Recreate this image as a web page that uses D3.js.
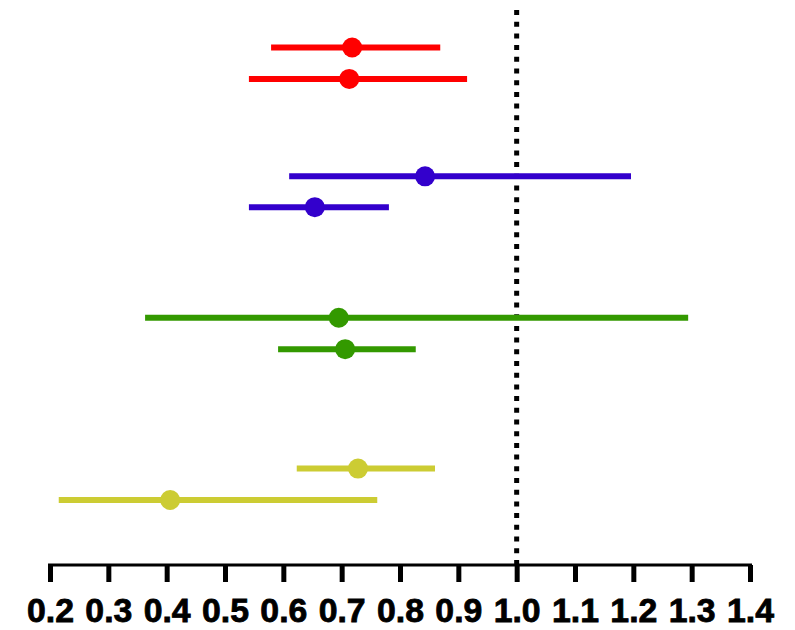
<!DOCTYPE html>
<html>
<head>
<meta charset="utf-8">
<script src="https://cdn.jsdelivr.net/npm/d3@7/dist/d3.min.js"></script>
<style>
  html, body { margin: 0; padding: 0; background: #fff; }
  svg { display: block; }
</style>
</head>
<body>
<svg id="chart" width="795" height="630"></svg>
<script>
// Odds ratios with 95% CI, two rows per group
const groups = ["A", "A", "B", "B", "C", "C", "D", "D"];
const rowSlot = [0, 1, 4.1, 5.08, 8.6, 9.6, 13.4, 14.4];
const estimate = [0.718, 0.713, 0.843, 0.654, 0.695, 0.706, 0.728, 0.406];
const lower    = [0.579, 0.541, 0.610, 0.541, 0.363, 0.591, 0.623, 0.215];
const upper    = [0.869, 0.915, 1.196, 0.781, 1.294, 0.827, 0.860, 0.761];
const groupColors = { A: "#ff0000", B: "#3300cc", C: "#339900", D: "#cccc33" };
const tickValues = [0.2, 0.3, 0.4, 0.5, 0.6, 0.7, 0.8, 0.9, 1.0, 1.1, 1.2, 1.3, 1.4];
const refValue = 1.0;

const rows = estimate.map((e, i) => ({
  group: groups[i], slot: rowSlot[i], est: e, lo: lower[i], hi: upper[i]
}));

const svg = d3.select("#chart");
const x = d3.scaleLinear().domain([0.2, 1.4]).range([50, 750]);
const y = d3.scaleLinear().domain([0, 14.4]).range([47.5, 500]);
const axisY = 565;

// reference line at OR = 1
svg.append("line")
  .attr("x1", x(refValue)).attr("x2", x(refValue))
  .attr("y1", 10).attr("y2", axisY)
  .attr("stroke", "#000").attr("stroke-width", 5)
  .attr("stroke-dasharray", "5,6.7");

// confidence interval bars
svg.selectAll("line.ci").data(rows).join("line")
  .attr("class", "ci")
  .attr("x1", d => x(d.lo)).attr("x2", d => x(d.hi))
  .attr("y1", d => y(d.slot)).attr("y2", d => y(d.slot))
  .attr("stroke", d => groupColors[d.group])
  .attr("stroke-width", 6);

// point estimates
svg.selectAll("circle.est").data(rows).join("circle")
  .attr("class", "est")
  .attr("cx", d => x(d.est)).attr("cy", d => y(d.slot))
  .attr("r", 10)
  .attr("fill", d => groupColors[d.group]);

// x axis
const axis = d3.axisBottom(x).tickValues(tickValues)
  .tickFormat(d3.format(".1f")).tickSizeInner(17).tickSizeOuter(0);
const gx = svg.append("g").attr("transform", `translate(0,${axisY})`).call(axis);
gx.select(".domain").attr("stroke", "#000").attr("stroke-width", 3)
  .attr("d", `M${x(0.2) - 2},0H${x(1.4) + 2}`);
gx.selectAll(".tick line").attr("stroke", "#000").attr("stroke-width", 5);
gx.selectAll(".tick text")
  .attr("fill", "#000")
  .attr("stroke", "#000")
  .attr("stroke-width", 0.8)
  .attr("font-family", "Liberation Sans, Arial, sans-serif")
  .attr("font-weight", "bold")
  .attr("font-size", 33)
  .attr("y", 57)
  .attr("dy", 0)
  .attr("textLength", 47)
  .attr("lengthAdjust", "spacingAndGlyphs");
</script>
</body>
</html>
